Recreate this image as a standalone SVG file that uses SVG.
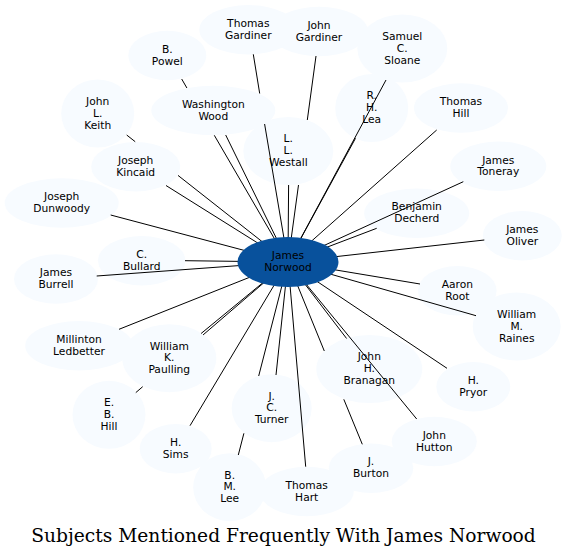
<svg xmlns="http://www.w3.org/2000/svg" width="567" height="557" viewBox="0 0 567 557">
<style>
.n ellipse{fill:#f7fbff;stroke:none}
#n-james-norwood ellipse{fill:#08519c;stroke:none}
text{font-family:"DejaVu Sans","Liberation Sans",sans-serif;font-size:10.7px;text-anchor:middle;fill:#000}
#connectors path{fill:none;stroke:#000;stroke-width:1}
text.title{font-family:"DejaVu Serif","Liberation Serif",serif;font-size:18.67px}
</style>
<rect width="567" height="557" fill="#fff"/>
<g id="nodes">
<g id="n-john-gardiner" class="n"><ellipse cx="319" cy="31.5" rx="49" ry="24.7"/><text><tspan x="319" y="28.7">John</tspan><tspan x="319" y="40.5">Gardiner</tspan></text></g>
<g id="n-thomas-gardiner" class="n"><ellipse cx="248.3" cy="29.8" rx="49" ry="24.7"/><text><tspan x="248.3" y="27">Thomas</tspan><tspan x="248.3" y="38.8">Gardiner</tspan></text></g>
<g id="n-samuel-c-sloane" class="n"><ellipse cx="402.3" cy="48.5" rx="45" ry="34"/><text><tspan x="402.3" y="39.9">Samuel</tspan><tspan x="402.3" y="51.7">C.</tspan><tspan x="402.3" y="63.5">Sloane</tspan></text></g>
<g id="n-b-powel" class="n"><ellipse cx="167.3" cy="55.5" rx="39" ry="24.7"/><text><tspan x="167.3" y="52.7">B.</tspan><tspan x="167.3" y="64.5">Powel</tspan></text></g>
<g id="n-washington-wood" class="n"><ellipse cx="213.3" cy="110.5" rx="62" ry="24.7"/><text><tspan x="213.3" y="107.7">Washington</tspan><tspan x="213.3" y="119.5">Wood</tspan></text></g>
<g id="n-john-l-keith" class="n"><ellipse cx="97.7" cy="113.5" rx="36.5" ry="34"/><text><tspan x="97.7" y="104.9">John</tspan><tspan x="97.7" y="116.7">L.</tspan><tspan x="97.7" y="128.5">Keith</tspan></text></g>
<g id="n-joseph-kincaid" class="n"><ellipse cx="135.7" cy="166.7" rx="44.5" ry="24.7"/><text><tspan x="135.7" y="163.9">Joseph</tspan><tspan x="135.7" y="175.7">Kincaid</tspan></text></g>
<g id="n-l-l-westall" class="n"><ellipse cx="288.3" cy="151" rx="45" ry="34"/><text><tspan x="288.3" y="142.4">L.</tspan><tspan x="288.3" y="154.2">L.</tspan><tspan x="288.3" y="166">Westall</tspan></text></g>
<g id="n-r-h-lea" class="n"><ellipse cx="371.7" cy="108" rx="36.5" ry="34"/><text><tspan x="371.7" y="99.4">R.</tspan><tspan x="371.7" y="111.2">H.</tspan><tspan x="371.7" y="123">Lea</tspan></text></g>
<g id="n-thomas-hill" class="n"><ellipse cx="461" cy="108" rx="47" ry="24.7"/><text><tspan x="461" y="105.2">Thomas</tspan><tspan x="461" y="117">Hill</tspan></text></g>
<g id="n-james-toneray" class="n"><ellipse cx="498.3" cy="166.3" rx="48" ry="24.7"/><text><tspan x="498.3" y="163.5">James</tspan><tspan x="498.3" y="175.3">Toneray</tspan></text></g>
<g id="n-benjamin-decherd" class="n"><ellipse cx="416.7" cy="213.2" rx="52.5" ry="24.7"/><text><tspan x="416.7" y="210.4">Benjamin</tspan><tspan x="416.7" y="222.2">Decherd</tspan></text></g>
<g id="n-james-oliver" class="n"><ellipse cx="522.3" cy="235.7" rx="39.5" ry="24.7"/><text><tspan x="522.3" y="232.9">James</tspan><tspan x="522.3" y="244.7">Oliver</tspan></text></g>
<g id="n-aaron-root" class="n"><ellipse cx="457.3" cy="290.7" rx="39.3" ry="24.7"/><text><tspan x="457.3" y="287.9">Aaron</tspan><tspan x="457.3" y="299.7">Root</tspan></text></g>
<g id="n-william-m-raines" class="n"><ellipse cx="516.7" cy="326.5" rx="44" ry="34"/><text><tspan x="516.7" y="317.9">William</tspan><tspan x="516.7" y="329.7">M.</tspan><tspan x="516.7" y="341.5">Raines</tspan></text></g>
<g id="n-h-pryor" class="n"><ellipse cx="473.3" cy="386.7" rx="37" ry="24.7"/><text><tspan x="473.3" y="383.9">H.</tspan><tspan x="473.3" y="395.7">Pryor</tspan></text></g>
<g id="n-john-hutton" class="n"><ellipse cx="434.3" cy="441.5" rx="42.5" ry="24.7"/><text><tspan x="434.3" y="438.7">John</tspan><tspan x="434.3" y="450.5">Hutton</tspan></text></g>
<g id="n-j-burton" class="n"><ellipse cx="371" cy="468.2" rx="42.3" ry="24.7"/><text><tspan x="371" y="465.4">J.</tspan><tspan x="371" y="477.2">Burton</tspan></text></g>
<g id="n-thomas-hart" class="n"><ellipse cx="306.7" cy="491.5" rx="47" ry="24.7"/><text><tspan x="306.7" y="488.7">Thomas</tspan><tspan x="306.7" y="500.5">Hart</tspan></text></g>
<g id="n-john-h-branagan" class="n"><ellipse cx="369.3" cy="369" rx="53" ry="34"/><text><tspan x="369.3" y="360.4">John</tspan><tspan x="369.3" y="372.2">H.</tspan><tspan x="369.3" y="384">Branagan</tspan></text></g>
<g id="n-j-c-turner" class="n"><ellipse cx="271.7" cy="408.2" rx="40" ry="34"/><text><tspan x="271.7" y="399.6">J.</tspan><tspan x="271.7" y="411.4">C.</tspan><tspan x="271.7" y="423.2">Turner</tspan></text></g>
<g id="n-b-m-lee" class="n"><ellipse cx="229.7" cy="487.2" rx="36.5" ry="34"/><text><tspan x="229.7" y="478.6">B.</tspan><tspan x="229.7" y="490.4">M.</tspan><tspan x="229.7" y="502.2">Lee</tspan></text></g>
<g id="n-h-sims" class="n"><ellipse cx="175.7" cy="448.7" rx="36" ry="24.7"/><text><tspan x="175.7" y="445.9">H.</tspan><tspan x="175.7" y="457.7">Sims</tspan></text></g>
<g id="n-e-b-hill" class="n"><ellipse cx="109" cy="414.8" rx="36.5" ry="34"/><text><tspan x="109" y="406.2">E.</tspan><tspan x="109" y="418">B.</tspan><tspan x="109" y="429.8">Hill</tspan></text></g>
<g id="n-william-k-paulling" class="n"><ellipse cx="169.3" cy="358.2" rx="47" ry="34"/><text><tspan x="169.3" y="349.6">William</tspan><tspan x="169.3" y="361.4">K.</tspan><tspan x="169.3" y="373.2">Paulling</tspan></text></g>
<g id="n-millinton-ledbetter" class="n"><ellipse cx="79" cy="345.7" rx="53.8" ry="24.7"/><text><tspan x="79" y="342.9">Millinton</tspan><tspan x="79" y="354.7">Ledbetter</tspan></text></g>
<g id="n-james-burrell" class="n"><ellipse cx="56" cy="279" rx="42" ry="24.7"/><text><tspan x="56" y="276.2">James</tspan><tspan x="56" y="288">Burrell</tspan></text></g>
<g id="n-c-bullard" class="n"><ellipse cx="141.7" cy="260.7" rx="43.7" ry="24.7"/><text><tspan x="141.7" y="257.9">C.</tspan><tspan x="141.7" y="269.7">Bullard</tspan></text></g>
<g id="n-joseph-dunwoody" class="n"><ellipse cx="61.7" cy="203" rx="57" ry="24.7"/><text><tspan x="61.7" y="200.2">Joseph</tspan><tspan x="61.7" y="212">Dunwoody</tspan></text></g>
</g>
<g id="connectors">
<path d="M253.3,54.3 L259.7,93.5 M264.6,124 L288,262"/>
<path d="M316,56 L307.3,120 M298.5,185 L288,262"/>
<path d="M386,80 L288,262"/>
<path d="M181.7,79 L186.9,88 M214.3,135.3 L288,262"/>
<path d="M225.7,135 L288,262"/>
<path d="M126.7,135 L135.2,141.7 M178,175.4 L288,262"/>
<path d="M166,185.5 L288,262"/>
<path d="M288.6,185 L288,262"/>
<path d="M355.5,138.3 L288,262"/>
<path d="M436.7,130 L288,262"/>
<path d="M463.3,181.7 L288,262"/>
<path d="M376.7,228.3 L288,262"/>
<path d="M484.3,240 L288,262"/>
<path d="M420,284 L288,262"/>
<path d="M476,315.7 L288,262"/>
<path d="M447,368.3 L288,262"/>
<path d="M416.7,419 L288,262"/>
<path d="M362.3,444.3 L343.8,399.3 M324.3,351 L288,262"/>
<path d="M346.6,338.5 L288,262"/>
<path d="M305.7,466.7 L288,262"/>
<path d="M276,375 L288,262"/>
<path d="M238.3,455 L243.9,433.3 M258.7,376 L288,262"/>
<path d="M190,425.7 L288,262"/>
<path d="M135.8,392.6 L142.7,386.7 M203.1,334.9 L288,262"/>
<path d="M201.1,333.5 L288,262"/>
<path d="M119,329.3 L288,262"/>
<path d="M96.7,276 L288,262"/>
<path d="M185,260.7 L288,262"/>
<path d="M110.7,215 L288,262"/>
</g>
<g id="n-james-norwood"><ellipse cx="288" cy="262" rx="50.5" ry="25"/><text><tspan x="288" y="259.2">James</tspan><tspan x="288" y="271">Norwood</tspan></text></g>
<text class="title" x="283.5" y="541.7">Subjects Mentioned Frequently With James Norwood</text>
</svg>
